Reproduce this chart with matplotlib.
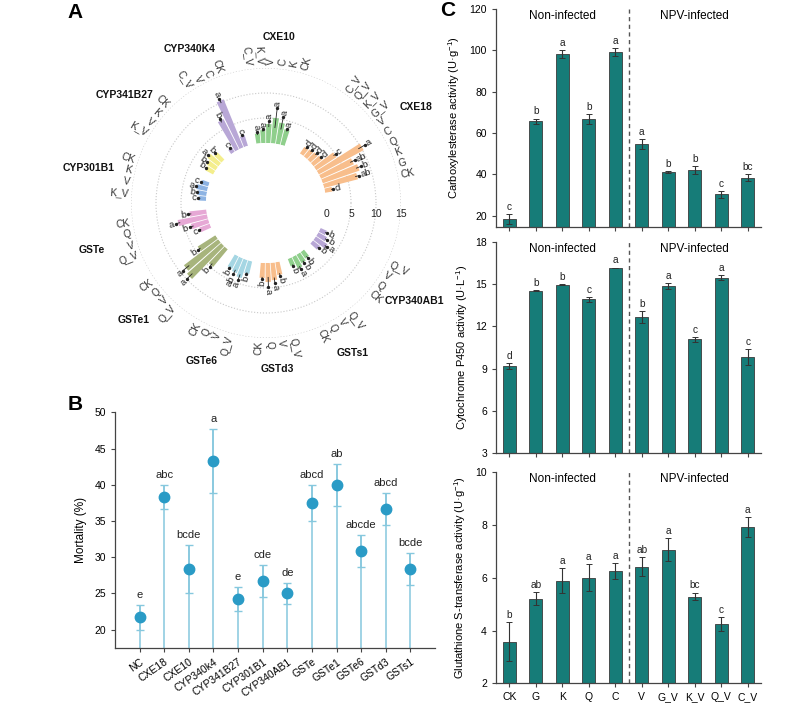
import matplotlib
matplotlib.use("Agg")
import matplotlib.pyplot as plt
import numpy as np
from matplotlib.transforms import blended_transform_factory

plt.rcParams['font.family'] = ['Liberation Sans', 'DejaVu Sans']
plt.rcParams['mathtext.default'] = 'regular'

# ---------------- data: panel A (relative expression, circular bars) ----------------
gene_names = ['CXE18', 'CXE10', 'CYP340K4', 'CYP341B27', 'CYP301B1', 'GSTe',
              'GSTe1', 'GSTe6', 'GSTd3', 'GSTs1', 'CYP340AB1']
gene_treatments = [
    ['CK', 'G', 'K', 'Q', 'C', 'V', 'G_V', 'K_V', 'Q_V', 'C_V'],
    ['CK', 'K', 'C', 'V', 'K_V', 'C_V'],
    ['CK', 'C', 'V', 'C_V'],
    ['CK', 'K', 'V', 'K_V'],
    ['CK', 'K', 'V', 'K_V'],
    ['CK', 'Q', 'V', 'Q_V'],
    ['CK', 'Q', 'V', 'Q_V'],
    ['CK', 'Q', 'V', 'Q_V'],
    ['CK', 'Q', 'V', 'Q_V'],
    ['CK', 'Q', 'V', 'Q_V'],
    ['CK', 'Q', 'V', 'Q_V'],
]
gene_values = [
    [1.5, 7.0, 7.8, 7.2, 10.2, 4.8, 2.2, 2.0, 1.8, 1.6],
    [3.2, 4.3, 5.1, 3.8, 2.6, 2.0],
    [2.2, 10.4, 6.8, 1.0],
    [2.0, 2.8, 2.2, 1.8],
    [1.5, 2.2, 1.8, 1.4],
    [3.4, 6.0, 3.6, 2.2],
    [4.2, 8.6, 9.2, 4.6],
    [2.8, 3.2, 3.8, 2.6],
    [3.0, 3.8, 3.5, 2.6],
    [1.6, 2.6, 2.0, 1.6],
    [1.8, 2.8, 2.0, 1.4],
]
gene_errors = [
    [0.2, 0.4, 0.5, 0.5, 0.8, 0.3, 0.2, 0.2, 0.2, 0.2],
    [0.3, 1.3, 2.0, 0.6, 0.3, 0.3],
    [0.2, 0.5, 0.4, 0.2],
    [0.2, 0.3, 0.2, 0.2],
    [0.2, 0.2, 0.2, 0.2],
    [0.3, 0.4, 0.4, 0.2],
    [0.3, 0.8, 0.8, 0.4],
    [0.2, 0.5, 0.6, 0.2],
    [0.2, 1.0, 0.5, 0.3],
    [0.2, 0.3, 0.3, 0.2],
    [0.2, 0.3, 0.2, 0.2],
]
gene_letters = [
    ['d', 'ab', 'b', 'ab', 'a', 'c', 'd', 'd', 'd', 'd'],
    ['a', 'a', 'a', 'a', 'a', 'a'],
    ['c', 'a', 'b', 'c'],
    ['b', 'a', 'b', 'b'],
    ['c', 'a', 'b', 'c'],
    ['b', 'a', 'b', 'c'],
    ['b', 'a', 'a', 'b'],
    ['b', 'ab', 'a', 'b'],
    ['b', 'a', 'a', 'b'],
    ['b', 'a', 'b', 'b'],
    ['b', 'a', 'b', 'b'],
]
gene_colors = ['#F8BE8C', '#8FCF8C', '#B8A7D6', '#F4EE8C', '#8DB3E3', '#E6A8D5',
               '#A7B47C', '#A5D6E3', '#F8BE8C', '#8FCF8C', '#B8A7D6']

# ---------------- data: panel B (mortality) ----------------
mort_genes = ['NC', 'CXE18', 'CXE10', 'CYP340k4', 'CYP341B27', 'CYP301B1', 'CYP340AB1',
              'GSTe', 'GSTe1', 'GSTe6', 'GSTd3', 'GSTs1']
mort_mean = [21.67, 38.33, 28.33, 43.33, 24.17, 26.67, 25.0, 37.5, 40.0, 30.83, 36.67, 28.33]
mort_err = [1.67, 1.67, 3.33, 4.41, 1.67, 2.2, 1.44, 2.5, 2.89, 2.2, 2.2, 2.2]
mort_letters = ['e', 'abc', 'bcde', 'a', 'e', 'cde', 'de', 'abcd', 'ab', 'abcde', 'abcd', 'bcde']

# ---------------- data: panel C (enzyme activities) ----------------
enz_groups = ['CK', 'G', 'K', 'Q', 'C', 'V', 'G_V', 'K_V', 'Q_V', 'C_V']
cxe_mean = [18.4, 65.8, 98.1, 66.8, 99.3, 54.8, 41.0, 42.1, 30.3, 38.4]
cxe_err = [2.6, 1.2, 2.0, 2.3, 2.0, 2.5, 0.5, 2.1, 1.6, 1.7]
cxe_letters = ['c', 'b', 'a', 'b', 'a', 'a', 'b', 'b', 'c', 'bc']
p450_mean = [9.18, 14.55, 14.98, 13.93, 16.17, 12.65, 14.88, 11.08, 15.48, 9.82]
p450_err = [0.24, 0.05, 0.03, 0.19, 0.03, 0.43, 0.19, 0.19, 0.17, 0.55]
p450_letters = ['d', 'b', 'b', 'c', 'a', 'b', 'a', 'c', 'a', 'c']
gst_mean = [3.58, 5.2, 5.89, 6.0, 6.25, 6.42, 7.07, 5.29, 4.25, 7.93]
gst_err = [0.73, 0.25, 0.47, 0.51, 0.3, 0.35, 0.43, 0.15, 0.25, 0.39]
gst_letters = ['b', 'ab', 'a', 'a', 'a', 'ab', 'a', 'bc', 'c', 'a']

# ---------------- figure ----------------
W, H = 799, 703
fig = plt.figure(figsize=(W / 100, H / 100), dpi=100)


def px_axes(left, top, right, bottom, **kw):
    return fig.add_axes([left / W, 1 - bottom / H, (right - left) / W, (bottom - top) / H], **kw)


# ===== Panel A =====
cx, cy, R = 266, 203, 135
axp = px_axes(cx - R, cy - R, cx + R, cy + R, projection='polar')
axp.set_facecolor('none')
axp.set_ylim(0, 15)
axp.set_rorigin(-12)
axp.set_xticks([])
axp.set_yticks([5, 10, 15])
axp.set_yticklabels([])
axp.yaxis.grid(True, linestyle=':', color='#c8c8c8', linewidth=0.8)
for sp in axp.spines.values():
    sp.set_color('none')
    sp.set_linewidth(0)

step, gap, first_gap = 4.65, 12.3, 20.3
ang = 11.8
for gi, trts in enumerate(gene_treatments):
    angs = []
    for j in range(len(trts)):
        angs.append(ang)
        ang += step
    ang += (first_gap if gi == 0 else gap) - step
    angs = np.array(angs)
    th = np.deg2rad(angs)
    vals = np.array(gene_values[gi])
    errs = np.array(gene_errors[gi])
    axp.bar(th, vals, width=np.deg2rad(step * 0.85), bottom=0, color=gene_colors[gi],
            edgecolor='none', zorder=2)
    axp.errorbar(th, vals, yerr=errs, fmt='none', ecolor='#222222', elinewidth=0.6,
                 capsize=0, zorder=3)
    axp.plot(th, vals + errs, 'o', ms=1.4, color='#222222', zorder=3)
    for a, t, v, e, lt, tr in zip(angs, th, vals, errs, gene_letters[gi], trts):
        right = a <= 90 or a >= 270
        rot = a if right else a - 180
        ha = 'left' if right else 'right'
        axp.text(t, v + e + 0.35, lt, rotation=rot, rotation_mode='anchor', ha=ha,
                 va='center', fontsize=6.8, color='#222222', clip_on=False)
        axp.text(t, 15.6, tr, rotation=rot, rotation_mode='anchor', ha=ha, va='center',
                 fontsize=7.3, color='#333333', clip_on=False)
    mid = np.deg2rad(angs.mean())
    r_px = 165 + 16 * abs(np.cos(mid))
    axp.text(mid, (r_px - 60) / 5.0, gene_names[gi], ha='center', va='center',
             fontsize=7.5, fontweight='bold', color='#111111', clip_on=False)

for t in [0, 5, 10, 15]:
    axp.annotate(str(t), (0, t), xytext=(0, -4), textcoords='offset points',
                 ha='center', va='top', fontsize=7.5, color='#222222', annotation_clip=False)

# ===== Panel B =====
axb = px_axes(115, 412.3, 435, 647.7)
xb = np.arange(len(mort_genes))
ymin_b = 17.5
mm = np.array(mort_mean)
me = np.array(mort_err)
axb.vlines(xb, ymin_b, mm + me, color='#86C8DE', linewidth=1.1, zorder=1)
axb.errorbar(xb, mm, yerr=me, fmt='none', ecolor='#86C8DE', elinewidth=1.1, capsize=3,
             capthick=1.0, zorder=2)
axb.plot(xb, mm, 'o', color='#2A9BC6', ms=7.5, zorder=3)
for x, m, e, lt in zip(xb, mm, me, mort_letters):
    axb.text(x, m + e + 0.7, lt, ha='center', va='bottom', fontsize=8, color='#222222')
axb.set_xlim(-1, 12)
axb.set_ylim(ymin_b, 50)
axb.set_yticks([20, 25, 30, 35, 40, 45, 50])
axb.set_xticks(xb)
axb.set_xticklabels(mort_genes, rotation=35, ha='right', rotation_mode='anchor', fontsize=7.5)
axb.set_ylabel('Mortality (%)', fontsize=8.5)
axb.yaxis.set_label_coords(-0.088, 0.5)
axb.spines['top'].set_visible(False)
axb.spines['right'].set_visible(False)
for sp in ['left', 'bottom']:
    axb.spines[sp].set_color('#444444')
    axb.spines[sp].set_linewidth(0.9)
axb.tick_params(labelsize=7.5, length=3, width=0.8, color='#444444')

# ===== Panel C =====
xc = np.arange(len(enz_groups))
panels = [
    (9, 226.7, (14.7, 120), [20, 40, 60, 80, 100, 120], cxe_mean, cxe_err, cxe_letters,
     'Carboxylesterase activity (U·g$^{-1}$)', -0.13),
    (242.3, 452.7, (3, 18), [3, 6, 9, 12, 15, 18], p450_mean, p450_err, p450_letters,
     'Cytochrome P450 activity (U·L$^{-1}$)', -0.098),
    (472.3, 683.3, (2, 10), [2, 4, 6, 8, 10], gst_mean, gst_err, gst_letters,
     'Glutathione S-transferase activity (U·g$^{-1}$)', -0.106),
]
for k, (top, bot, ylim, yt, mean, err, letters, ylab, lx) in enumerate(panels):
    ax = px_axes(496, top, 761, bot)
    mean = np.array(mean)
    ax.bar(xc, mean - ylim[0], width=0.48, bottom=ylim[0], color='#167C78',
           edgecolor='#3a3a3a', linewidth=0.6, zorder=2)
    ax.errorbar(xc, mean, yerr=err, fmt='none', ecolor='#333333', elinewidth=0.8,
                capsize=2.2, capthick=0.7, zorder=3)
    for x, m, e, lt in zip(xc, mean, err, letters):
        ax.annotate(lt, (x, m + e), xytext=(0, 1.5), textcoords='offset points',
                    ha='center', va='bottom', fontsize=7.3, color='#222222')
    ax.axvline(4.5, linestyle='--', color='#555555', linewidth=1.0, dashes=(3, 2.5))
    tr = blended_transform_factory(ax.transData, ax.transAxes)
    ax.text(2, 0.995, 'Non-infected', transform=tr, ha='center', va='top', fontsize=8.5)
    ax.text(7, 0.995, 'NPV-infected', transform=tr, ha='center', va='top', fontsize=8.5)
    ax.set_xlim(-0.5, 9.5)
    ax.set_ylim(*ylim)
    ax.set_yticks(yt)
    ax.set_xticks(xc)
    if k == 2:
        ax.set_xticklabels(enz_groups, fontsize=7.5)
    else:
        ax.set_xticklabels([])
    ax.set_ylabel(ylab, fontsize=8)
    ax.yaxis.set_label_coords(lx, 0.5)
    ax.spines['top'].set_visible(False)
    ax.spines['right'].set_visible(False)
    for sp in ['left', 'bottom']:
        ax.spines[sp].set_color('#444444')
        ax.spines[sp].set_linewidth(0.9)
    ax.tick_params(labelsize=7.5, length=3, width=0.8, color='#444444')

# panel letters
for s, x, y in [('A', 75, 12), ('B', 75, 405), ('C', 448, 10)]:
    fig.text(x / W, 1 - y / H, s, ha='center', va='center', fontsize=15, fontweight='bold')

fig.savefig('out.png', dpi=100)
